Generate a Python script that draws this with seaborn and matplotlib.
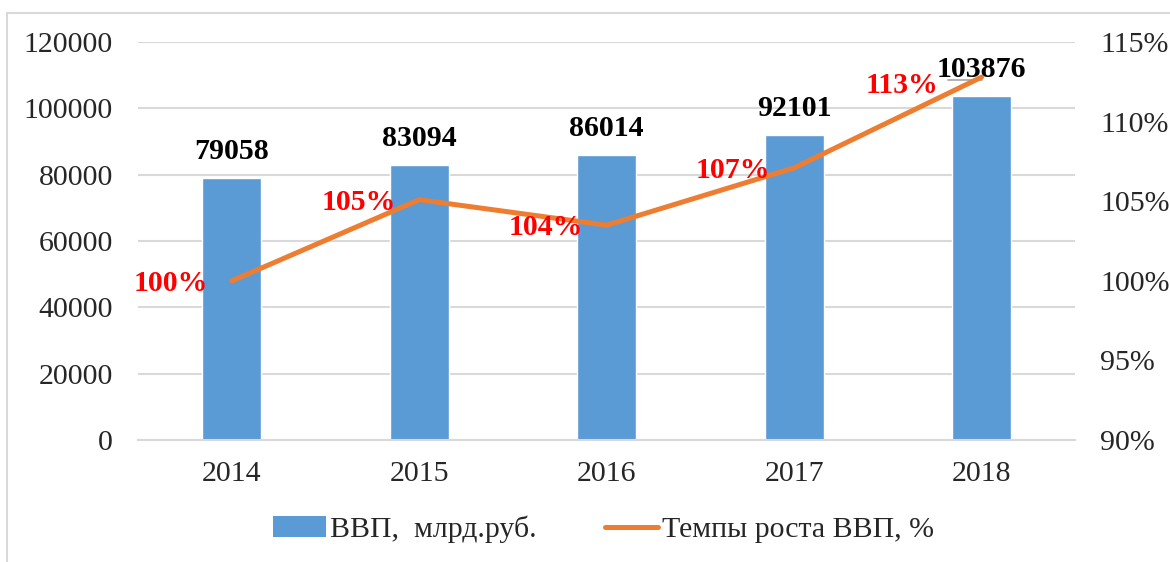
import numpy as np
import pandas as pd
import matplotlib
matplotlib.use('Agg')
import matplotlib.pyplot as plt
import seaborn as sns
from matplotlib.patches import Patch, Rectangle
from matplotlib.lines import Line2D

# Data
years = ['2014', '2015', '2016', '2017', '2018']
gdp = [79058, 83094, 86014, 92101, 103876]
growth = [100.0, 105.1, 103.5, 107.1, 112.8]
growth_labels = ['100%', '105%', '104%', '107%', '113%']

df = pd.DataFrame({'Year': years, 'GDP': gdp, 'Growth': growth, 'pos': np.arange(len(years))})

sns.set_style('white')
plt.rcParams['font.family'] = ['Liberation Serif', 'DejaVu Serif']

blue = '#5B9BD5'
orange = '#ED7D31'
grid_c = '#D9D9D9'
fs = 21.5

fig = plt.figure(figsize=(11.7, 5.62), dpi=100)
ax = fig.add_axes([0.118, 0.217, 0.801, 0.708])

# Bars
sns.barplot(data=df, x='Year', y='GDP', color=blue, width=0.315, saturation=1, ax=ax, zorder=2)
ax.set_ylim(0, 120000)
ax.set_yticks(range(0, 120001, 20000))
ax.set_xlim(-0.5, 4.5)
ax.yaxis.grid(True, color=grid_c, linewidth=1.5, zorder=0)
ax.set_axisbelow(True)
for s in ['top', 'right', 'left']:
    ax.spines[s].set_visible(False)
ax.spines['bottom'].set_color(grid_c)
ax.spines['bottom'].set_linewidth(1.5)
ax.tick_params(axis='y', length=0, pad=18, labelsize=fs)
ax.tick_params(axis='x', length=0, pad=15, labelsize=fs)
ax.set_xlabel('')
ax.set_ylabel('')

for i, v in enumerate(gdp):
    ax.annotate(str(v), (i, v), xytext=(0, 9), textcoords='offset points',
                ha='center', va='bottom', fontsize=fs, fontweight='bold', color='black')

# Growth line on secondary axis
ax2 = ax.twinx()
sns.lineplot(data=df, x='pos', y='Growth', color=orange, linewidth=3.6, ax=ax2, zorder=3)
ax2.set_ylim(90, 115)
ax2.set_yticks(range(90, 116, 5))
ax2.set_yticklabels([f'{t}%' for t in range(90, 116, 5)])
ax2.set_xlim(-0.5, 4.5)
for s in ax2.spines.values():
    s.set_visible(False)
ax2.tick_params(axis='y', length=0, pad=18, labelsize=fs)
ax2.set_ylabel('')
ax2.set_xlabel('')

for i, (v, lab) in enumerate(zip(growth, growth_labels)):
    last = i == len(growth) - 1
    off = (-31, -6) if last else (-17, -2)
    ax2.annotate(lab, (i, v), xytext=off, textcoords='offset points',
                 ha='right', va='center', fontsize=fs, fontweight='bold', color='red')

# small leader line next to the last bar label
ax2.plot([3.82, 4.0], [112.6, 112.6], color='#A6A6A6', linewidth=1.2, zorder=2)

# Legend
handles = [Patch(facecolor=blue, edgecolor='none'),
           Line2D([0], [0], color=orange, linewidth=3.6)]
fig.legend(handles, ['ВВП,  млрд.руб.', 'Темпы роста ВВП, %'], loc='center',
           bbox_to_anchor=(0.516, 0.058), ncol=2, frameon=False, fontsize=fs,
           handlelength=1.75, handletextpad=0.15, columnspacing=2.3)

# Outer frame
fig.patches.append(Rectangle((7 / 1170, -0.1), 1.2, 1 - 13 / 562 + 0.1,
                             transform=fig.transFigure, fill=False,
                             edgecolor=grid_c, linewidth=1.5))

fig.savefig('out.png', dpi=100)
